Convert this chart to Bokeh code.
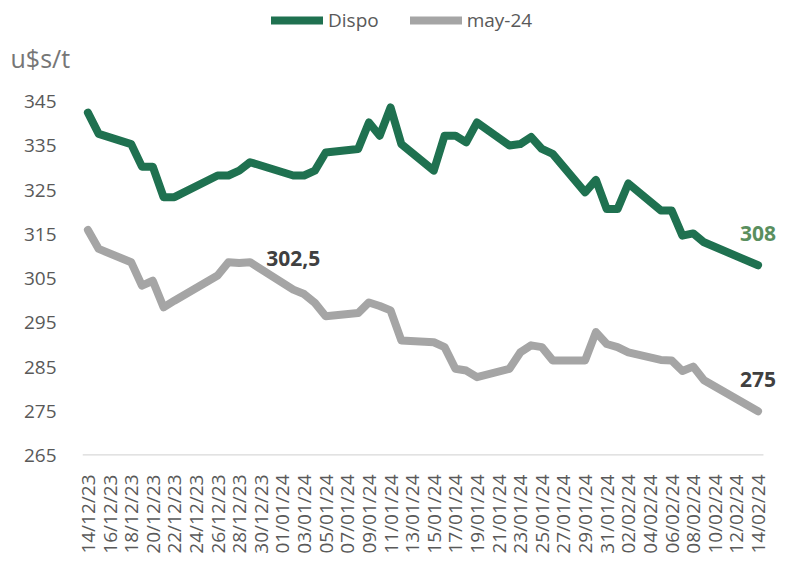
import datetime as dt
import math
from bokeh.plotting import figure
from bokeh.layouts import column
from bokeh.models import Range1d, FixedTicker, Legend, LegendItem, Label
from bokeh.embed import file_html
from bokeh.resources import INLINE

# ---- data ----
dates = ["14/12/23", "15/12/23", "18/12/23", "19/12/23", "20/12/23", "21/12/23", "22/12/23",
         "26/12/23", "27/12/23", "28/12/23", "29/12/23",
         "02/01/24", "03/01/24", "04/01/24", "05/01/24",
         "08/01/24", "09/01/24", "10/01/24", "11/01/24", "12/01/24",
         "15/01/24", "16/01/24", "17/01/24", "18/01/24", "19/01/24",
         "22/01/24", "23/01/24", "24/01/24", "25/01/24", "26/01/24",
         "29/01/24", "30/01/24", "31/01/24", "01/02/24", "02/02/24",
         "05/02/24", "06/02/24", "07/02/24", "08/02/24", "09/02/24",
         "14/02/24"]
dispo = [342.5, 337.7, 335.4, 330.3, 330.3, 323.4, 323.4,
         328.3, 328.3, 329.4, 331.3,
         328.3, 328.3, 329.4, 333.5,
         334.3, 340.3, 337.3, 343.7, 335.4,
         329.4, 337.3, 337.3, 335.8, 340.3,
         335.1, 335.4, 337.0, 334.3, 333.2,
         324.5, 327.3, 320.7, 320.7, 326.5,
         320.4, 320.4, 314.7, 315.2, 313.2,
         308.0]
may24 = [316.0, 311.7, 308.7, 303.4, 304.5, 298.5, 300.0,
         305.7, 308.7, 308.5, 308.7,
         302.5, 301.5, 299.5, 296.5,
         297.2, 299.6, 298.8, 297.8, 291.0,
         290.6, 289.5, 284.6, 284.2, 282.7,
         284.6, 288.3, 289.9, 289.5, 286.5,
         286.5, 292.9, 290.2, 289.5, 288.3,
         286.6, 286.5, 284.1, 285.1, 282.0,
         275.0]
tick_labels = ["14/12/23", "16/12/23", "18/12/23", "20/12/23", "22/12/23", "24/12/23",
               "26/12/23", "28/12/23", "30/12/23", "01/01/24", "03/01/24", "05/01/24",
               "07/01/24", "09/01/24", "11/01/24", "13/01/24", "15/01/24", "17/01/24",
               "19/01/24", "21/01/24", "23/01/24", "25/01/24", "27/01/24", "29/01/24",
               "31/01/24", "02/02/24", "04/02/24", "06/02/24", "08/02/24", "10/02/24",
               "12/02/24", "14/02/24"]
y_ticks = [265, 275, 285, 295, 305, 315, 325, 335, 345]
series_names = ["Dispo", "may-24"]
unit_label = "u$s/t"
annotated_date = "02/01/24"

# ---- helpers ----
d0 = dt.datetime.strptime(dates[0], "%d/%m/%y")


def day(s):
    return (dt.datetime.strptime(s, "%d/%m/%y") - d0).days


x = [day(s) for s in dates]
ticks = [day(s) for s in tick_labels]

GREEN = "#1F7150"
GRAY = "#A5A5A5"
TXT = "#595959"
FONT = "Open Sans"
HEADER_H = 79

x_start = ticks[0] - 0.5
x_axis_end = ticks[-1] + 0.5


def no_frame_align(fig):
    try:
        fig.frame_align = False
    except Exception:
        pass


# ---- header strip: legend + unit label ----
hdr = figure(width=790, height=HEADER_H, output_backend="svg", toolbar_location=None,
             x_range=Range1d(0, 790), y_range=Range1d(0, HEADER_H),
             x_axis_type=None, y_axis_type=None, min_border=0,
             min_border_left=0, min_border_right=0, min_border_top=0, min_border_bottom=0)
no_frame_align(hdr)
hdr.outline_line_color = None
hdr.xgrid.visible = False
hdr.ygrid.visible = False
hdr.background_fill_color = "white"
hdr.border_fill_color = "white"
# legend proxies carry the series (hidden here; the series are drawn in the chart below)
h1 = hdr.line(x, dispo, line_color=GREEN, line_width=8, line_cap="round", visible=False)
h2 = hdr.line(x, may24, line_color=GRAY, line_width=8, line_cap="round", visible=False)
legend = Legend(items=[LegendItem(label=series_names[0], renderers=[h1]),
                       LegendItem(label=series_names[1], renderers=[h2])],
                orientation="horizontal", location=(271, 46),
                glyph_width=52, glyph_height=20, label_height=20, label_standoff=5,
                spacing=31, padding=0, margin=0, inactive_fill_alpha=0,
                border_line_alpha=0, background_fill_alpha=0,
                label_text_font=FONT, label_text_font_size="19px", label_text_color=TXT)
hdr.add_layout(legend)
hdr.add_layout(Label(x=10, y=HEADER_H - 57, text=unit_label,
                     text_font=FONT, text_font_size="25px", text_color="#767676",
                     text_align="left", text_baseline="middle"))

# ---- main chart ----
p = figure(width=790, height=481, output_backend="svg", toolbar_location=None,
           x_range=Range1d(x_start, x_axis_end + 2.04), y_range=Range1d(265, 350),
           min_border_left=82, min_border_right=5, min_border_top=0, min_border_bottom=105)
no_frame_align(p)
p.outline_line_color = None
p.xgrid.visible = False
p.ygrid.visible = False
p.background_fill_color = "white"
p.border_fill_color = "white"

# axis baseline spanning only the date range
p.line([x_start, x_axis_end], [y_ticks[0], y_ticks[0]], line_color="#D9D9D9", line_width=2.5)

r1 = p.line(x, dispo, line_color=GREEN, line_width=8, line_join="round", line_cap="round")
r2 = p.line(x, may24, line_color=GRAY, line_width=8, line_join="round", line_cap="round")

p.xaxis.ticker = FixedTicker(ticks=ticks)
p.xaxis.major_label_overrides = {t: l for t, l in zip(ticks, tick_labels)}
p.xaxis.major_label_orientation = math.pi / 2
p.xaxis.axis_line_color = None
p.xaxis.major_tick_line_color = None
p.xaxis.minor_tick_line_color = None
p.xaxis.major_label_standoff = 13
p.xaxis.major_label_text_font = FONT
p.xaxis.major_label_text_font_size = "19px"
p.xaxis.major_label_text_color = TXT

p.yaxis.ticker = FixedTicker(ticks=y_ticks)
p.yaxis.axis_line_color = None
p.yaxis.major_tick_line_color = None
p.yaxis.minor_tick_line_color = None
p.yaxis.major_label_standoff = 20
p.yaxis.major_label_text_font = FONT
p.yaxis.major_label_text_font_size = "19px"
p.yaxis.major_label_text_color = TXT


def fmt(v):
    return ("%g" % v).replace(".", ",")


ia = dates.index(annotated_date)
p.add_layout(Label(x=x[ia], y=may24[ia], y_offset=31, text=fmt(may24[ia]),
                   text_font=FONT, text_font_size="21px", text_font_style="bold",
                   text_color="#404040", text_align="center", text_baseline="middle"))
p.add_layout(Label(x=x[-1], y=dispo[-1], y_offset=32, text=fmt(dispo[-1]),
                   text_font=FONT, text_font_size="21px", text_font_style="bold",
                   text_color="#5A8F5E", text_align="center", text_baseline="middle"))
p.add_layout(Label(x=x[-1], y=may24[-1], y_offset=32, text=fmt(may24[-1]),
                   text_font=FONT, text_font_size="21px", text_font_style="bold",
                   text_color="#404040", text_align="center", text_baseline="middle"))

layout = column(hdr, p, spacing=0)
open("out.html", "w").write(file_html(layout, INLINE))
